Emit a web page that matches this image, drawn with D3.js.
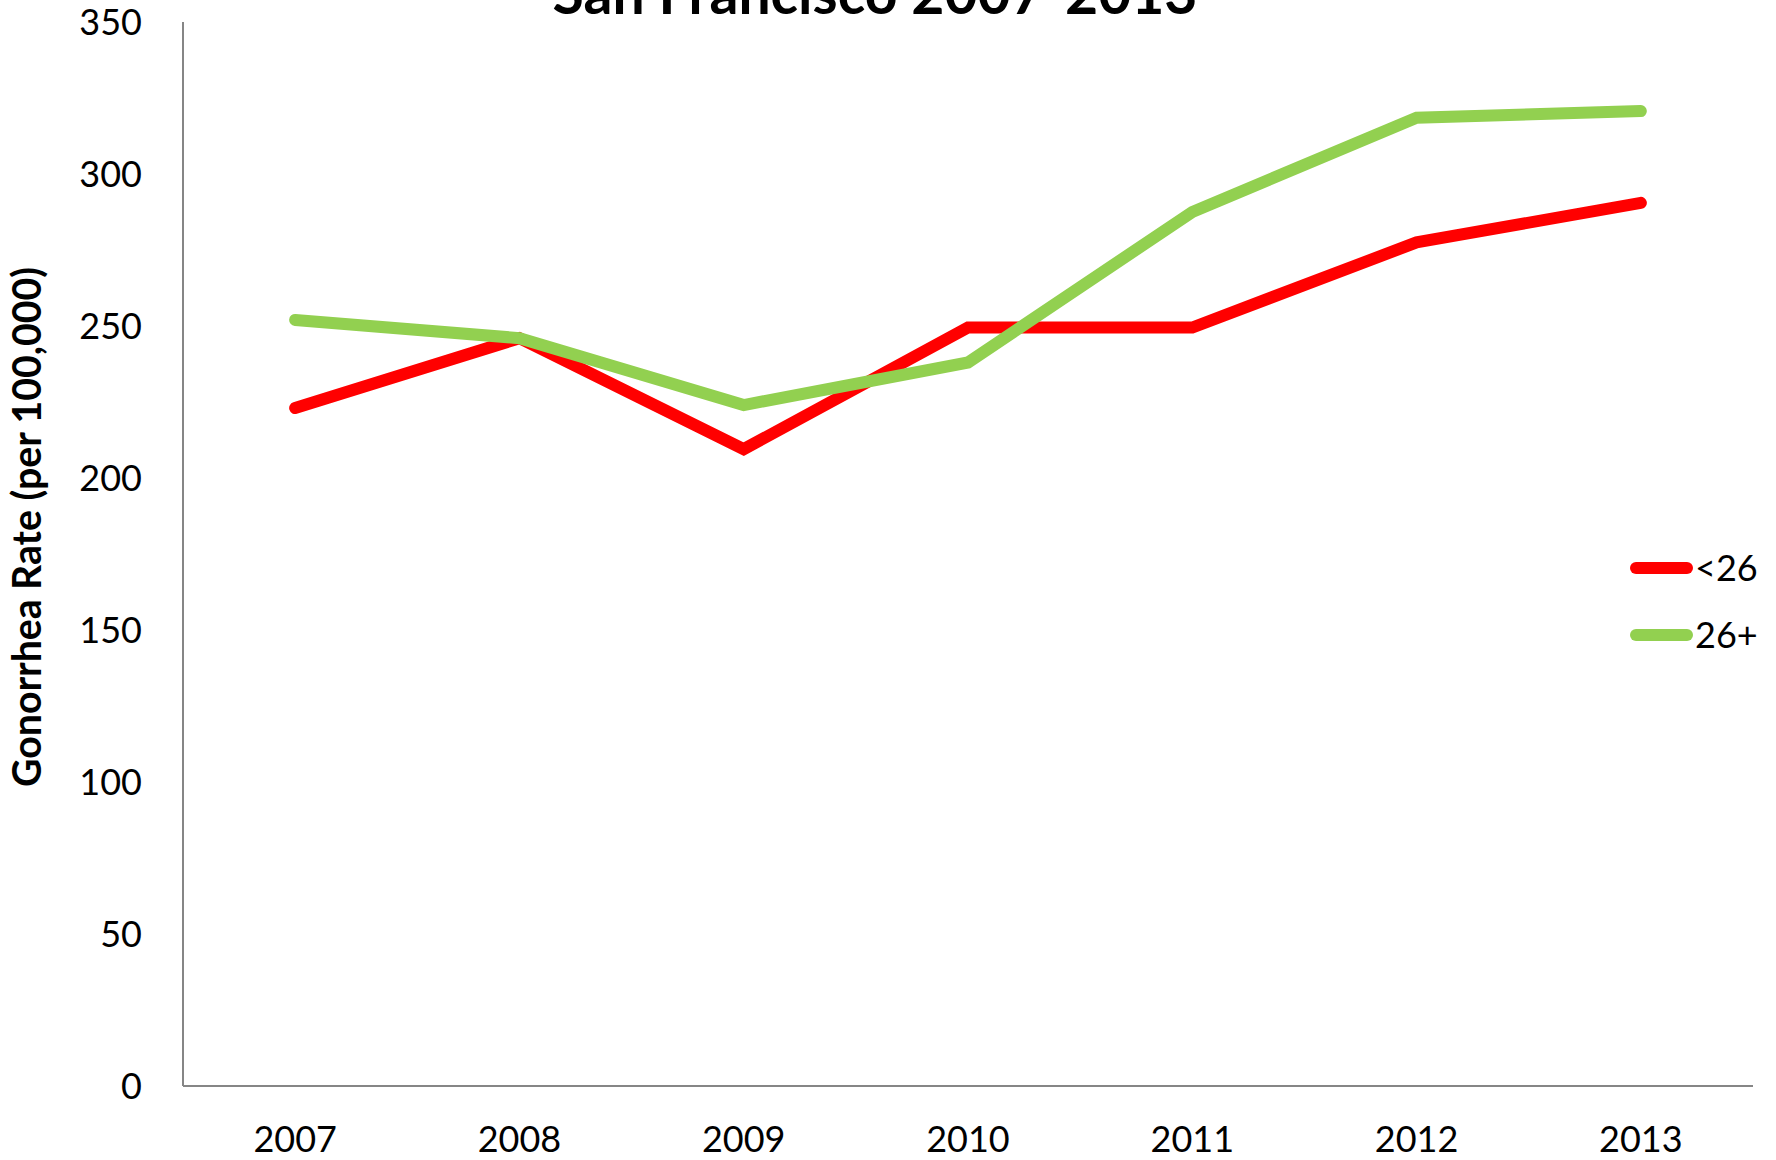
<!DOCTYPE html>
<html>
<head>
<meta charset="utf-8">
<script src="https://cdn.jsdelivr.net/npm/d3@7"></script>
<style>
  body { margin: 0; background: #fff; }
  svg { display: block; font-family: Lato, "Noto Sans", sans-serif; }
</style>
</head>
<body>
<svg id="chart" width="1776" height="1160"></svg>
<script>
var years = ["2007", "2008", "2009", "2010", "2011", "2012", "2013"]
var under26 = [223, 246, 209.5, 249.5, 249.5, 277.5, 290.5]
var over26 = [252, 246, 224, 238, 287.5, 318.5, 320.7]
var yTicks = [0, 50, 100, 150, 200, 250, 300, 350]
var seriesNames = ["<26", "26+"]
var seriesColors = ["#ff0000", "#92d050"]

var svg = d3.select("#chart")
var margin = {top: 22, left: 183, right: 23, bottom: 74}
var W = 1776, H = 1160

var xScale = d3.scaleBand()
  .domain(years)
  .range([margin.left, W - margin.right])

var yScale = d3.scaleLinear()
  .domain([0, 350])
  .range([H - margin.bottom, margin.top])

// axes lines (no tick marks, like excel)
svg.append("line")
  .attr("x1", margin.left).attr("x2", margin.left)
  .attr("y1", yScale(350)).attr("y2", yScale(0))
  .attr("stroke", "#868686").attr("stroke-width", 2)
svg.append("line")
  .attr("x1", margin.left).attr("x2", W - margin.right)
  .attr("y1", yScale(0)).attr("y2", yScale(0))
  .attr("stroke", "#868686").attr("stroke-width", 2)

svg.append("g").selectAll("text").data(yTicks).enter()
  .append("text")
  .attr("x", 142)
  .attr("y", function(d) { return yScale(d) })
  .attr("dy", "0.35em")
  .attr("text-anchor", "end")
  .attr("font-size", "36px")
  .attr("fill", "#000")
  .text(function(d) { return d })

svg.append("g").selectAll("text").data(years).enter()
  .append("text")
  .attr("x", function(d) { return xScale(d) + xScale.bandwidth() / 2 })
  .attr("y", 1152)
  .attr("text-anchor", "middle")
  .attr("font-size", "36px")
  .attr("fill", "#000")
  .text(function(d) { return d })

// series lines
var line = d3.line()
  .x(function(d, i) { return xScale(years[i]) + xScale.bandwidth() / 2 })
  .y(function(d) { return yScale(d) })

var allSeries = [under26, over26]
allSeries.forEach(function(s, k) {
  svg.append("path")
    .datum(s)
    .attr("d", line)
    .attr("fill", "none")
    .attr("stroke", seriesColors[k])
    .attr("stroke-width", 12)
    .attr("stroke-linecap", "round")
    .attr("stroke-linejoin", "miter")
})

// legend
var legend = svg.append("g")
seriesNames.forEach(function(name, k) {
  var ly = 568 + k * 67
  legend.append("line")
    .attr("x1", 1636).attr("x2", 1687)
    .attr("y1", ly).attr("y2", ly)
    .attr("stroke", seriesColors[k])
    .attr("stroke-width", 12)
    .attr("stroke-linecap", "round")
  legend.append("text")
    .attr("x", 1695).attr("y", ly)
    .attr("dy", "0.35em")
    .attr("font-size", "36px")
    .attr("fill", "#000")
    .text(name)
})

// title (cut off at the top in the original)
var title = svg.append("text")
  .attr("x", 875).attr("y", 14)
  .attr("text-anchor", "middle")
  .attr("font-weight", "bold")
  .attr("font-size", "48px")
  .text("San Francisco 2007-2013")
var tw = title.node().getComputedTextLength()
title.attr("font-size", (48 * 645 / tw) + "px")

// y axis title
var ytitle = svg.append("text")
  .attr("transform", "translate(41,527) rotate(-90)")
  .attr("text-anchor", "middle")
  .attr("font-weight", "bold")
  .attr("font-size", "32px")
  .text("Gonorrhea Rate (per 100,000)")
var yw = ytitle.node().getComputedTextLength()
ytitle.attr("font-size", (32 * 520 / yw) + "px")
</script>
</body>
</html>
